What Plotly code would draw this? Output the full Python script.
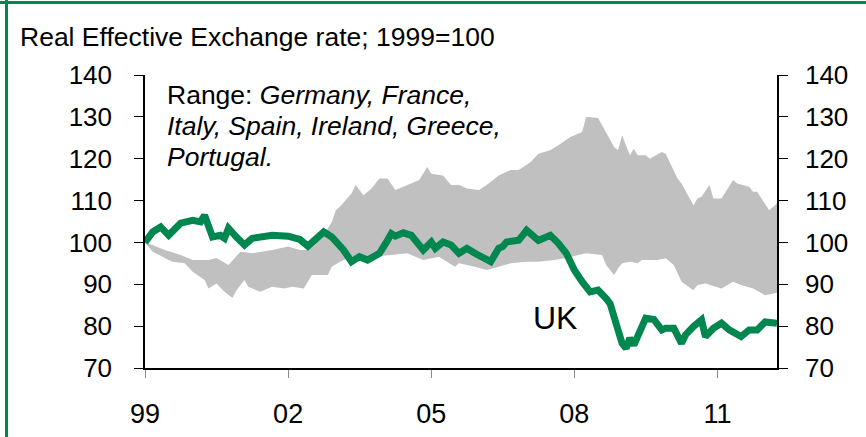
import pandas as pd
import plotly.graph_objects as go

# ---- data (months since Jan 1999, index value 1999=100) ----
uk_month = [0, 2, 4, 6, 9, 12, 14, 15, 17, 19, 20, 21, 23, 25, 27, 30, 32, 36, 39, 41,
            43, 45, 47, 50, 52, 54, 56, 59, 61, 62, 63, 65, 67, 69, 70, 72, 73, 75, 77, 79,
            81, 83, 85, 87, 89, 90, 91, 94, 96, 99, 100, 102, 104, 106, 108, 109, 110, 112, 114, 116,
            117, 119, 120, 121, 122, 123, 124, 126, 128, 130, 131, 133, 135, 136, 138, 140, 141, 143, 145, 147,
            150, 152, 154, 156, 159]
uk_value = [100, 102.5, 103.7, 101.7, 104.6, 105.3, 104.9, 106.5, 101.3, 101.7, 101, 103.4, 101.3, 99.4, 101, 101.5, 101.7, 101.5, 100.7, 99.1,
            101, 102.5, 101.3, 98.2, 95.4, 96.6, 95.8, 97.4, 100.5, 102.1, 101.5, 102.3, 101.7, 98.9, 98.2, 100.1, 98.6, 100.1, 99.4, 97.4,
            98.6, 97.4, 96.6, 95.4, 98.6, 99, 100.1, 100.5, 102.9, 100.5, 100.9, 101.7, 99.8, 97.4, 93.4, 91.5, 90.6, 88.2, 88.6, 86.6,
            85.4, 79.1, 75.9, 74.7, 77.1, 75.5, 77.9, 81.9, 81.6, 79.1, 79.5, 79.5, 75.9, 77.9, 79.9, 81.5, 77.5, 79.5, 80.7, 79.1,
            77.5, 79.1, 79.1, 81.0, 80.7]

hi_month = [0, 2, 5, 9, 12, 16, 18, 21, 24, 27, 32, 36, 39, 41, 45, 47, 48, 49, 52, 53,
            55, 57, 59, 61, 63, 66, 69, 71, 72, 75, 77, 79, 81, 84, 86, 89, 92, 94, 97, 99,
            102, 104, 107, 110, 111, 114, 116, 118, 119, 120, 122, 123, 124, 126, 127, 130, 131, 134, 135, 138,
            139, 140, 142, 143, 145, 148, 149, 152, 153, 154, 157, 159]
hi_value = [100, 99.4, 98.2, 97, 95.8, 95.8, 96.3, 94.6, 97.8, 97.4, 98.2, 99, 98.2, 98.2, 101.7, 104.9, 107.7, 108.5, 111.7, 113.7,
            111.3, 112.9, 115.3, 115.3, 112.5, 113.7, 114.9, 118, 116.4, 116, 113.7, 113.7, 112.9, 112.5, 113.7, 116, 117.3, 117.3, 119.2, 121.2,
            122, 123.2, 125.2, 126.4, 130, 129.7, 126.4, 122.8, 122, 125.6, 120.8, 122.4, 120.8, 120.8, 120, 121.6, 121.2, 115.3, 114.1, 108.9,
            110.5, 110.9, 113.7, 110.5, 110.5, 114.9, 114.1, 113.3, 112.1, 112.1, 107.7, 109.3]

lo_month = [0, 2, 6, 7, 10, 12, 15, 16, 18, 20, 22, 23, 25, 26, 29, 32, 35, 37, 40, 42,
            46, 47, 49, 52, 57, 62, 66, 70, 74, 78, 79, 83, 86, 89, 92, 96, 99, 103, 106, 109,
            111, 115, 116, 118, 119, 120, 122, 124, 125, 129, 131, 133, 135, 138, 139, 141, 145, 148, 150, 153,
            156, 158, 159]
lo_value = [100, 97.8, 95.8, 95.4, 95, 93, 91, 89, 90.2, 88.2, 86.7, 88.6, 91, 89.4, 88.2, 89.4, 89, 89.4, 89, 92.2,
            92.2, 94.2, 95.4, 96.6, 96.6, 97, 97.4, 95.8, 96.6, 94.2, 95, 94.2, 93.4, 94.2, 95, 95.4, 95.4, 95.8, 96.3, 97,
            97.4, 97, 94.6, 92.2, 93.8, 95, 95.4, 95, 95.8, 95.8, 96.2, 94.6, 90.6, 88.6, 89.8, 90.2, 89, 90.6, 89.8, 89,
            87.4, 87.8, 88]

tick_years = [1999, 2002, 2005, 2008, 2011]
tick_labels = ["99", "02", "05", "08", "11"]

GREEN = "#00874F"
GRAY = "#C0C0C0"
FONT = "Arial, Liberation Sans, sans-serif"

start = pd.Timestamp("1999-01-01")
def to_dates(months):
    return [start + pd.DateOffset(months=int(m)) for m in months]

uk_x = to_dates(uk_month)
hi_x = to_dates(hi_month)
lo_x = to_dates(lo_month)

band_x = hi_x + lo_x[::-1]
band_y = hi_value + lo_value[::-1]

fig = go.Figure()
fig.add_trace(go.Scatter(x=band_x, y=band_y, fill="toself", fillcolor=GRAY,
                         line=dict(width=0, color=GRAY), mode="lines",
                         hoverinfo="skip", showlegend=False))
fig.add_trace(go.Scatter(x=uk_x, y=uk_value, mode="lines",
                         line=dict(color=GREEN, width=7), showlegend=False, name="UK"))
# invisible trace for the right-hand axis
fig.add_trace(go.Scatter(x=[uk_x[0]], y=[uk_value[0]], yaxis="y2", mode="markers",
                         marker=dict(opacity=0), showlegend=False, hoverinfo="skip"))

tick_vals = [pd.Timestamp(f"{y}-01-01") for y in tick_years]

W, H = 866, 437
L, R, T, B = 145, 89, 75, 69
pw, ph = W - L - R, H - T - B
def px(xp):
    return (xp - L) / pw
def py(yp):
    return (H - B - yp) / ph

axis_common = dict(showline=True, linecolor="black", linewidth=1.5,
                   showgrid=False, zeroline=False, automargin=False)

fig.update_layout(
    width=W, height=H,
    margin=dict(l=L, r=R, t=T, b=B, pad=0, autoexpand=False),
    paper_bgcolor="white", plot_bgcolor="white",
    font=dict(family=FONT, color="black"),
    xaxis=dict(range=[start, start + pd.DateOffset(months=159)],
               tickvals=tick_vals, ticktext=tick_labels,
               ticks="outside", ticklen=8, tickcolor="#888888", tickwidth=1,
               tickfont=dict(size=27, family=FONT), ticklabelstandoff=13,
               **axis_common),
    yaxis=dict(range=[70, 140], dtick=10, tick0=70,
               ticks="outside", ticklen=9, tickcolor="black", tickwidth=1,
               tickfont=dict(size=26, family=FONT), ticklabelstandoff=17,
               **axis_common),
    yaxis2=dict(range=[70, 140], dtick=10, tick0=70, overlaying="y", side="right",
                ticks="outside", ticklen=9, tickcolor="black", tickwidth=1,
                tickfont=dict(size=26, family=FONT), ticklabelstandoff=12,
                **axis_common),
    shapes=[
        dict(type="line", xref="paper", yref="paper", x0=px(0), x1=px(W), y0=py(2.5), y1=py(2.5),
             line=dict(color=GREEN, width=3)),
        dict(type="line", xref="paper", yref="paper", x0=px(6.5), x1=px(6.5), y0=py(0), y1=py(H + 5),
             line=dict(color=GREEN, width=3)),
    ],
    annotations=[
        dict(text="Real Effective Exchange rate; 1999=100", xref="paper", yref="paper",
             x=px(18), y=py(37), xanchor="left", yanchor="middle", showarrow=False,
             font=dict(size=26.5, family=FONT)),
        dict(text="Range: <i>Germany, France,</i>", xref="paper", yref="paper",
             x=px(165), y=py(95), xanchor="left", yanchor="middle", showarrow=False,
             font=dict(size=26.5, family=FONT)),
        dict(text="<i>Italy, Spain, Ireland, Greece,</i>", xref="paper", yref="paper",
             x=px(165), y=py(126), xanchor="left", yanchor="middle", showarrow=False,
             font=dict(size=26.5, family=FONT)),
        dict(text="<i>Portugal.</i>", xref="paper", yref="paper",
             x=px(165), y=py(157), xanchor="left", yanchor="middle", showarrow=False,
             font=dict(size=26.5, family=FONT)),
        dict(text="UK", xref="paper", yref="paper",
             x=px(555), y=py(318), xanchor="center", yanchor="middle", showarrow=False,
             font=dict(size=32, family=FONT)),
    ],
)

fig.write_html("out.html",
               config={"displayModeBar": False},
               post_script="document.body.style.margin='0';document.body.style.overflow='hidden';")
